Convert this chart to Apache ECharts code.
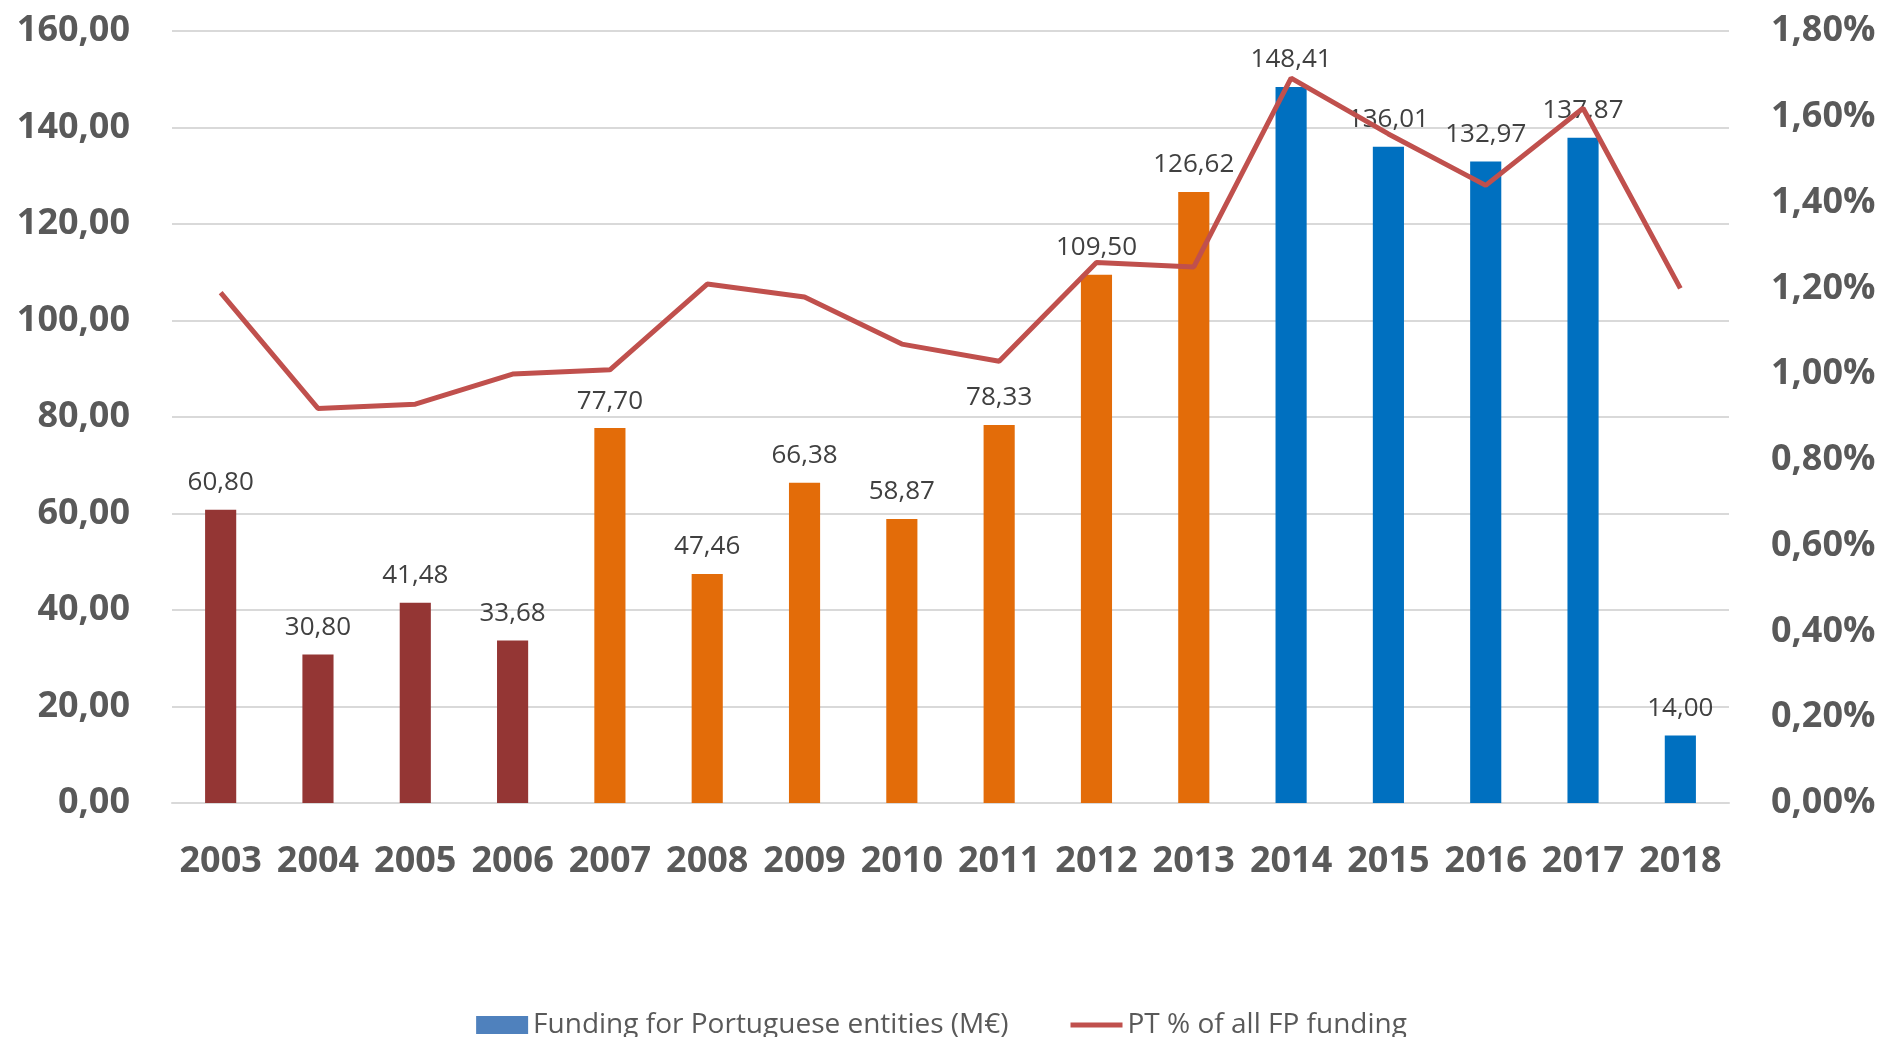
<!DOCTYPE html>
<html>
<head>
<meta charset="utf-8">
<script src="https://cdn.jsdelivr.net/npm/echarts@6/dist/echarts.min.js"></script>
<style>
  html, body { margin: 0; padding: 0; background: #fff; }
  #chart { width: 1883px; height: 1037px; }
</style>
</head>
<body>
<div id="chart"></div>
<script>
// Years on the x axis
const years = ["2003", "2004", "2005", "2006", "2007", "2008", "2009", "2010",
  "2011", "2012", "2013", "2014", "2015", "2016", "2017", "2018"];

// Funding for Portuguese entities (M€)
const funding = [60.80, 30.80, 41.48, 33.68, 77.70, 47.46, 66.38, 58.87,
  78.33, 109.50, 126.62, 148.41, 136.01, 132.97, 137.87, 14.00];

// PT % of all FP funding
const share = [1.19, 0.92, 0.93, 1.00, 1.01, 1.21, 1.18, 1.07,
  1.03, 1.26, 1.25, 1.69, 1.56, 1.44, 1.62, 1.20];

// framework programme of each year (FP6, FP7, H2020)
const programme = ["FP6", "FP6", "FP6", "FP6", "FP7", "FP7", "FP7", "FP7",
  "FP7", "FP7", "FP7", "H2020", "H2020", "H2020", "H2020", "H2020"];

const programmeColors = { FP6: "#943634", FP7: "#E36C09", H2020: "#0070C0" };

const fmt = (v) => v.toFixed(2).replace(".", ",");

const chart = echarts.init(document.getElementById("chart"));

const fontFamily = "'Open Sans', 'Noto Sans', sans-serif";

const options = {
  animation: false,
  textStyle: { fontFamily: fontFamily },
  grid: { left: 172, right: 154, top: 31, bottom: 234, containLabel: false },
  legend: {
    bottom: -7,
    left: "center",
    itemGap: 62,
    itemWidth: 52,
    itemHeight: 18,
    textStyle: { fontSize: 28, color: "#595959", fontFamily: fontFamily },
    data: [
      { name: "Funding for Portuguese entities (M€)", icon: "rect" },
      { name: "PT % of all FP funding", icon: "path://M0,0 L10,0 L10,1 L0,1 Z" }
    ]
  },
  xAxis: {
    type: "category",
    data: years,
    boundaryGap: true,
    axisLine: { lineStyle: { color: "#D9D9D9", width: 2 } },
    axisTick: { show: false },
    axisLabel: {
      interval: 0,
      color: "#595959",
      fontSize: 36,
      fontWeight: "bold",
      margin: 41
    }
  },
  yAxis: [
    {
      type: "value",
      min: 0,
      max: 160,
      interval: 20,
      axisLine: { show: false },
      axisTick: { show: false },
      splitLine: { lineStyle: { color: "#D9D9D9", width: 2 } },
      axisLabel: {
        color: "#595959",
        fontSize: 36,
        fontWeight: "bold",
        margin: 42,
        formatter: (v) => fmt(v)
      }
    },
    {
      type: "value",
      min: 0,
      max: 1.8,
      interval: 0.2,
      axisLine: { show: false },
      axisTick: { show: false },
      splitLine: { show: false },
      axisLabel: {
        color: "#595959",
        fontSize: 36,
        fontWeight: "bold",
        margin: 42,
        formatter: (v) => fmt(v) + "%"
      }
    }
  ],
  series: [
    {
      name: "Funding for Portuguese entities (M€)",
      type: "bar",
      barWidth: "32%",
      itemStyle: { color: "#4F81BD" },
      label: {
        show: true,
        position: "top",
        distance: 14,
        fontSize: 26,
        color: "#404040",
        formatter: (p) => fmt(p.value)
      },
      data: funding.map((v, i) => ({
        value: v,
        itemStyle: { color: programmeColors[programme[i]] }
      }))
    },
    {
      name: "PT % of all FP funding",
      type: "line",
      yAxisIndex: 1,
      symbol: "none",
      z: 5,
      lineStyle: { color: "#C0504D", width: 5 },
      itemStyle: { color: "#C0504D" },
      data: share
    }
  ]
};

chart.setOption(options);
window.addEventListener("resize", () => chart.resize());
</script>
</body>
</html>
